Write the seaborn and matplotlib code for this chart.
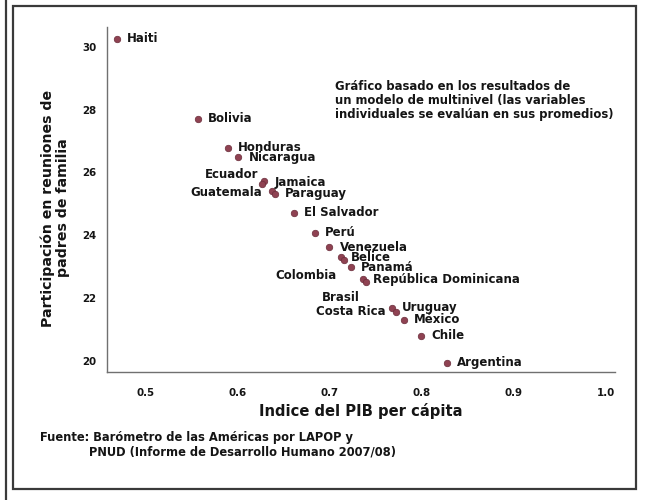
import matplotlib
matplotlib.use('Agg')
import matplotlib.pyplot as plt
import seaborn as sns
import pandas as pd
from matplotlib.patches import Rectangle
from matplotlib.lines import Line2D

# ---- data ----
countries = ["Haiti", "Bolivia", "Honduras", "Nicaragua", "Ecuador", "Jamaica",
             "Guatemala", "Paraguay", "El Salvador", "Perú", "Venezuela", "Belice",
             "Colombia", "Panamá", "República Dominicana", "Brasil", "Uruguay",
             "Costa Rica", "México", "Chile", "Argentina"]
pib_index = [0.469, 0.557, 0.590, 0.601, 0.629, 0.627,
             0.638, 0.641, 0.661, 0.684, 0.700, 0.712,
             0.716, 0.723, 0.736, 0.740, 0.768,
             0.772, 0.781, 0.800, 0.828]
participacion = [30.25, 27.70, 26.78, 26.48, 25.71, 25.64,
                 25.40, 25.32, 24.71, 24.08, 23.61, 23.29,
                 23.21, 22.97, 22.60, 22.52, 21.69,
                 21.56, 21.30, 20.79, 19.94]
x_ticks = [0.5, 0.6, 0.7, 0.8, 0.9, 1.0]
x_tick_labels = ["0.5", "0.6", "0.7", "0.8", "0.9", "1.0"]
y_ticks = [20, 22, 24, 26, 28, 30]
y_tick_labels = ["20", "22", "24", "26", "28", "30"]

x_title = "Indice del PIB per cápita"
y_title = "Participación en reuniones de\npadres de familia"
note = ("Gráfico basado en los resultados de\n"
        "un modelo de multinivel (las variables\n"
        "individuales se evalúan en sus promedios)")
source_1 = "Fuente: Barómetro de las Américas por LAPOP y"
source_2 = "PNUD (Informe de Desarrollo Humano 2007/08)"

# ---- label placement (style, in pixels) ----
label_offsets = {
    "Ecuador": (-6, 7, "right"),
    "Jamaica": (12, 1, "left"),
    "Guatemala": (-10, -1, "right"),
    "Colombia": (-8, -16, "right"),
    "Brasil": (-7, -16, "right"),
    "Costa Rica": (-10, 0, "right"),
}
default_offset = (10, 0, "left")

sns.set_style("white")
plt.rcParams['font.family'] = ['DejaVu Sans']
plt.rcParams['font.weight'] = 'bold'
plt.rcParams['axes.labelweight'] = 'bold'

W, H = 647, 500
fig = plt.figure(figsize=(W / 100, H / 100), dpi=100)
fig.patch.set_facecolor('white')

ax_l, ax_r, ax_t, ax_b = 107, 615, 27, 372
ax = fig.add_axes([ax_l / W, 1 - ax_b / H, (ax_r - ax_l) / W, (ax_b - ax_t) / H])

df = pd.DataFrame({"pais": countries, "pib": pib_index, "part": participacion})
sns.scatterplot(data=df, x="pib", y="part", ax=ax, color="#8f4252", s=22,
                edgecolor="#6a2d3b", linewidth=0.5, zorder=3, legend=False)

txt_color = "#151515"
for c, xv, yv in zip(countries, pib_index, participacion):
    dx, dy, ha = label_offsets.get(c, default_offset)
    ax.annotate(c, (xv, yv), xytext=(dx, dy), textcoords="offset pixels",
                ha=ha, va="center", fontsize=8.5, fontweight="bold", color=txt_color)

ax.set_xlim(0.4582, 1.0103)
ax.set_ylim(19.64, 30.63)
ax.set_xticks(x_ticks)
ax.set_xticklabels(x_tick_labels)
ax.set_yticks(y_ticks)
ax.set_yticklabels(y_tick_labels)

spine_col = "#707070"
for s in ["top", "right"]:
    ax.spines[s].set_visible(False)
for s in ["left", "bottom"]:
    ax.spines[s].set_color(spine_col)
    ax.spines[s].set_linewidth(1.0)
ax.tick_params(axis="x", direction="out", length=3.6, width=0.9, color=spine_col,
               pad=8.0, labelsize=7.4, labelcolor=txt_color)
ax.tick_params(axis="y", direction="out", length=3.6, width=0.9, color=spine_col,
               pad=4.2, labelsize=7.4, labelcolor=txt_color)
for lab in ax.get_xticklabels() + ax.get_yticklabels():
    lab.set_fontweight("bold")

ax.set_xlabel(x_title, fontsize=10.6, fontweight="bold", color=txt_color)
ax.xaxis.label.set_verticalalignment("center")
ax.xaxis.set_label_coords(0.5, (ax_b - 411) / (ax_b - ax_t))
ax.set_ylabel(y_title, fontsize=10.2, fontweight="bold", color=txt_color, linespacing=1.05)
ax.yaxis.label.set_verticalalignment("center")
ax.yaxis.set_label_coords((55.5 - ax_l) / (ax_r - ax_l), (ax_b - 208) / (ax_b - ax_t))

fig.text(335 / W, 1 - 80 / H, note, ha="left", va="top", fontsize=8.4,
         fontweight="bold", color=txt_color, linespacing=1.1)
fig.text(40 / W, 1 - 438 / H, source_1, ha="left", va="center", fontsize=8.3,
         fontweight="bold", color=txt_color)
fig.text(89 / W, 1 - 452 / H, source_2, ha="left", va="center", fontsize=8.3,
         fontweight="bold", color=txt_color)

# frame
fig.patches.append(Rectangle((13 / W, 1 - 489 / H), (636 - 13) / W, (489 - 6) / H,
                             transform=fig.transFigure, fill=False,
                             edgecolor="#3a3a3a", linewidth=1.6))
fig.lines.append(Line2D([6 / W, 6 / W], [0, 1], transform=fig.transFigure,
                        color="#3a3a3a", linewidth=1.6))

fig.savefig("out.png", dpi=100, facecolor="white")
